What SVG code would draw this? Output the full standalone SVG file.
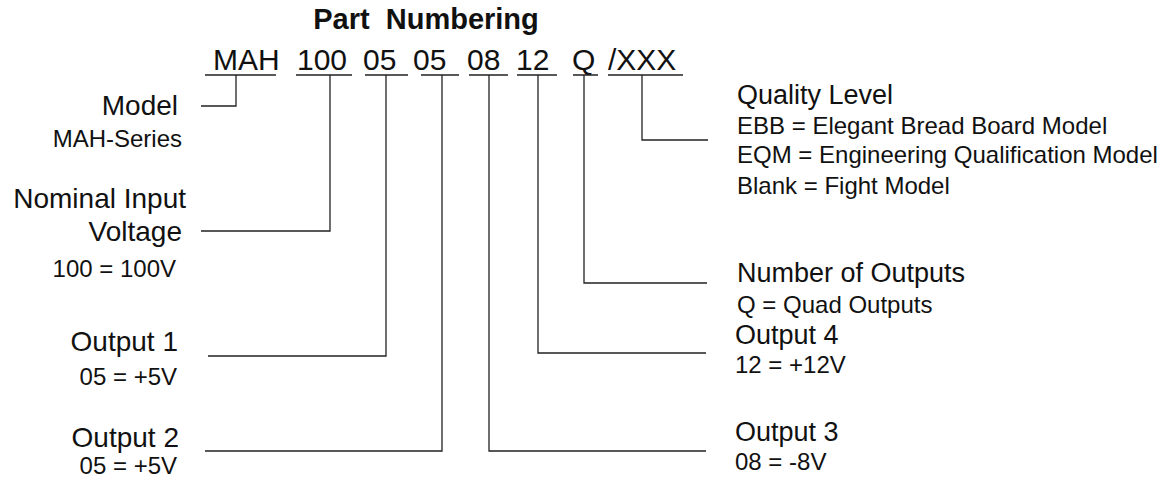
<svg xmlns="http://www.w3.org/2000/svg" width="1170" height="479" viewBox="0 0 1170 479">
<style>
text{font-family:"Liberation Sans",Arial,Helvetica,sans-serif;fill:#111}
.title{font-size:29px;font-weight:bold;white-space:pre}
.pn{font-size:30px}
.h{font-size:27px}
.hl{font-size:28px;text-anchor:end}
.s{font-size:24px}
.l{text-anchor:end}
.ln{fill:none;stroke:#222;stroke-width:1.3}
</style>
<rect width="1170" height="479" fill="#fff"/>
<g id="title"><text class="title" x="426" y="29" text-anchor="middle" xml:space="preserve">Part  Numbering</text></g>
<g id="partnumber">
<text class="pn" x="213" y="70">MAH</text>
<text class="pn" x="297" y="70">100</text>
<text class="pn" x="363" y="70">05</text>
<text class="pn" x="413" y="70">05</text>
<text class="pn" x="467" y="70">08</text>
<text class="pn" x="516" y="70">12</text>
<text class="pn" x="572" y="70">Q</text>
<text class="pn" x="608" y="70">/XXX</text>
<path class="ln" d="M205 75H276M296 75H352M365 75H408M421 75H459M469 75H508M517 75H557M573 75H598M608 75H683"/>
</g>
<g id="model"><text class="hl" x="178" y="115">Model</text><text class="s l" x="182" y="147">MAH-Series</text></g>
<g id="voltage"><text class="hl" x="186" y="208">Nominal Input</text><text class="hl" x="182" y="241">Voltage</text><text class="s l" x="176" y="277">100 = 100V</text></g>
<g id="output1"><text class="hl" x="178" y="351">Output 1</text><text class="s l" x="177" y="385">05 = +5V</text></g>
<g id="output2"><text class="hl" x="179" y="447">Output 2</text><text class="s l" x="177" y="474">05 = +5V</text></g>
<g id="quality"><text class="h" x="737" y="104">Quality Level</text><text class="s" x="737" y="134">EBB = Elegant Bread Board Model</text><text class="s" x="737" y="163">EQM = Engineering Qualification Model</text><text class="s" x="737" y="194">Blank = Fight Model</text></g>
<g id="outputs"><text class="h" x="737" y="282">Number of Outputs</text><text class="s" x="737" y="313">Q = Quad Outputs</text></g>
<g id="output4"><text class="h" x="735" y="344">Output 4</text><text class="s" x="735" y="373">12 = +12V</text></g>
<g id="output3"><text class="h" x="735" y="441">Output 3</text><text class="s" x="735" y="470">08 = -8V</text></g>
<g id="connectors">
<path class="ln" d="M236 75V106H201"/>
<path class="ln" d="M330 75V231H201"/>
<path class="ln" d="M386 75V356H208"/>
<path class="ln" d="M442 75V451H205"/>
<path class="ln" d="M489 75V451H706"/>
<path class="ln" d="M538 75V353H706"/>
<path class="ln" d="M584 75V283H707"/>
<path class="ln" d="M642 75V140H708"/>
</g>
</svg>
